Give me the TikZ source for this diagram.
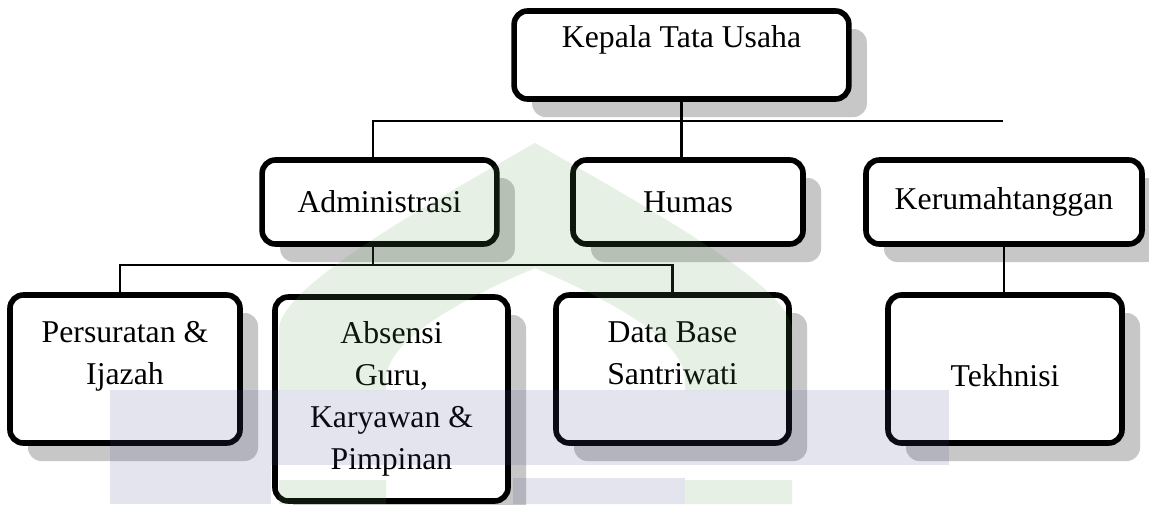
\documentclass[tikz,border=0pt]{standalone}
\usepackage{fontspec}
\setmainfont{Liberation Serif}
\usetikzlibrary{positioning,shadows}

\definecolor{wmgreen}{RGB}{88,155,75}
\definecolor{wmlilac}{RGB}{75,75,142}

\tikzset{
  orgbox/.style={draw=black, line width=4.2pt, rounded corners=10pt, fill=white,
    align=center, inner sep=0pt, font=\fontsize{23.8pt}{31.5pt}\selectfont,
    drop shadow={shadow xshift=13.5pt, shadow yshift=-13.5pt, fill=black!22, opacity=1}},
  link/.style={line width=2.2pt},
  mark green/.style={fill=wmgreen, opacity=0.15},
  mark lilac/.style={fill=wmlilac, opacity=0.15}
}

\begin{document}
\begin{tikzpicture}[x=0.75pt,y=-0.75pt]
  \fill[white] (0,0) rectangle (1149,504);
  \useasboundingbox (0,0) rectangle (1149,504);

  % top level
  \node[orgbox, minimum width=251pt, minimum height=66pt] (kepala) at (681.5,55) {Kepala Tata Usaha\\[-13.3pt]\strut};

  % second level
  \node[orgbox, minimum width=176pt, minimum height=63pt] (admin) at (379.5,202) {Administrasi};
  \node[orgbox, minimum width=172.5pt, minimum height=63pt] (humas) at (688,202) {Humas};
  \node[orgbox, minimum width=207pt, minimum height=63pt] (kerumah) at (1004,202) {Kerumahtanggan};

  % third level
  \node[orgbox, minimum width=172.5pt, minimum height=111pt] (surat) at (125,369) {Persuratan \&\\Ijazah\\[-17.2pt]\strut};
  \node[orgbox, minimum width=174.75pt, minimum height=153pt] (absensi) at (391.5,399) {Absensi\\Guru,\\Karyawan \&\\Pimpinan};
  \node[orgbox, minimum width=174.75pt, minimum height=111pt] (database) at (672.5,369) {Data Base\\Santriwati\\[-17.2pt]\strut};
  \node[orgbox, minimum width=175.5pt, minimum height=111pt] (teknisi) at (1005,369) {\strut\\[-27pt]Tekhnisi};

  % connectors
  \coordinate (topleft) at (373,121);
  \coordinate (topright) at (1003,121);
  \coordinate (subfoot) at (373,265);
  \coordinate (subleft) at (120,265);
  \draw[link] (kepala.south) -- (kepala.south |- humas.north);
  \draw[link] (topright) -- (topleft) -- (topleft |- admin.north);
  \draw[link] (admin.south -| subfoot) -- (subfoot);
  \draw[link] (subleft |- surat.north) -- (subleft) -- (database.north |- subleft) -- (database.north);
  \draw[link] (kerumah.south) -- (kerumah.south |- teknisi.north);

  % watermark
  \begin{scope}
    \clip (0,0) rectangle (1149,390) (0,480) rectangle (1149,504);
    \fill[mark green, even odd rule]
      (279,504) -- (279,330) .. controls (279,290) and (400,220) .. (535,143)
      .. controls (670,220) and (792,290) .. (792,330) -- (792,504) -- cycle
      (685,504) -- (685,380) .. controls (685,340) and (610,300) .. (535,268)
      .. controls (460,300) and (386,340) .. (386,380) -- (386,504) -- cycle;
  \end{scope}
  \fill[mark lilac] (110,390) rectangle (949,465);
  \fill[mark lilac] (110,465) rectangle (271,504);
  \fill[mark lilac] (513,478) rectangle (685,504);
\end{tikzpicture}
\end{document}
